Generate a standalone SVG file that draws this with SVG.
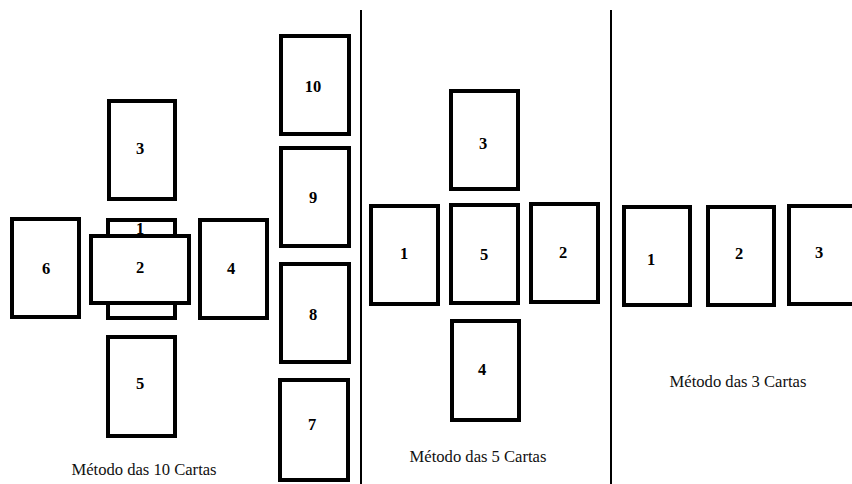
<svg xmlns="http://www.w3.org/2000/svg" width="852" height="484" viewBox="0 0 852 484">
<style>
.card{fill:#fff;stroke:#000;stroke-width:4}
.num{font-family:'Liberation Serif','Times New Roman','DejaVu Serif',serif;font-size:16.5px;font-weight:bold;text-anchor:middle;fill:#000}
.cap{font-family:'Liberation Serif','Times New Roman','DejaVu Serif',serif;font-size:16.6px;text-anchor:middle;fill:#111}
.div{stroke:#000;stroke-width:2}
</style>
<rect width="852" height="484" fill="#fff"/>
<g id="dividers">
<line class="div" x1="361" y1="10" x2="361" y2="484"/>
<line class="div" x1="611" y1="10" x2="611" y2="484"/>
</g>
<g id="ten-cards">
<g id="t3"><rect class="card" x="109" y="101" width="66" height="98"/><text class="num" x="140" y="153.5">3</text></g>
<g id="t6"><rect class="card" x="12" y="219" width="67" height="98"/><text class="num" x="46" y="273.5">6</text></g>
<g id="t1"><rect class="card" x="108" y="220" width="67" height="98"/><text class="num" x="140" y="233.5">1</text></g>
<g id="t2"><rect class="card" x="91" y="236" width="98" height="67"/><text class="num" x="140" y="272.5">2</text></g>
<g id="t4"><rect class="card" x="200" y="220" width="67" height="98"/><text class="num" x="231" y="273.5">4</text></g>
<g id="t5"><rect class="card" x="108" y="337" width="67" height="99"/><text class="num" x="140" y="388.5">5</text></g>
<g id="t10"><rect class="card" x="281" y="36" width="68" height="98"/><text class="num" x="313" y="91.5">10</text></g>
<g id="t9"><rect class="card" x="281" y="148" width="68" height="98"/><text class="num" x="313" y="202.5">9</text></g>
<g id="t8"><rect class="card" x="281" y="264" width="68" height="98"/><text class="num" x="313" y="319.5">8</text></g>
<g id="t7"><rect class="card" x="280" y="380" width="68" height="100"/><text class="num" x="312" y="429.5">7</text></g>
<text class="cap" x="144" y="475">Método das 10 Cartas</text>
</g>
<g id="five-cards">
<g id="f3"><rect class="card" x="451" y="91" width="67" height="98"/><text class="num" x="483" y="148.5">3</text></g>
<g id="f1"><rect class="card" x="371" y="206" width="67" height="98"/><text class="num" x="404" y="258.5">1</text></g>
<g id="f5"><rect class="card" x="451" y="205" width="67" height="98"/><text class="num" x="484" y="259.5">5</text></g>
<g id="f2"><rect class="card" x="531" y="204" width="67" height="98"/><text class="num" x="563" y="257.5">2</text></g>
<g id="f4"><rect class="card" x="452" y="321" width="67" height="99"/><text class="num" x="482" y="374.5">4</text></g>
<text class="cap" x="478" y="462">Método das 5 Cartas</text>
</g>
<g id="three-cards">
<g id="c1"><rect class="card" x="624" y="207" width="66" height="98"/><text class="num" x="651" y="264.5">1</text></g>
<g id="c2"><rect class="card" x="708" y="207" width="66" height="98"/><text class="num" x="739" y="258.5">2</text></g>
<g id="c3"><rect class="card" x="789" y="206" width="67" height="98"/><text class="num" x="819" y="257.5">3</text></g>
<text class="cap" x="738" y="387">Método das 3 Cartas</text>
</g>
</svg>
